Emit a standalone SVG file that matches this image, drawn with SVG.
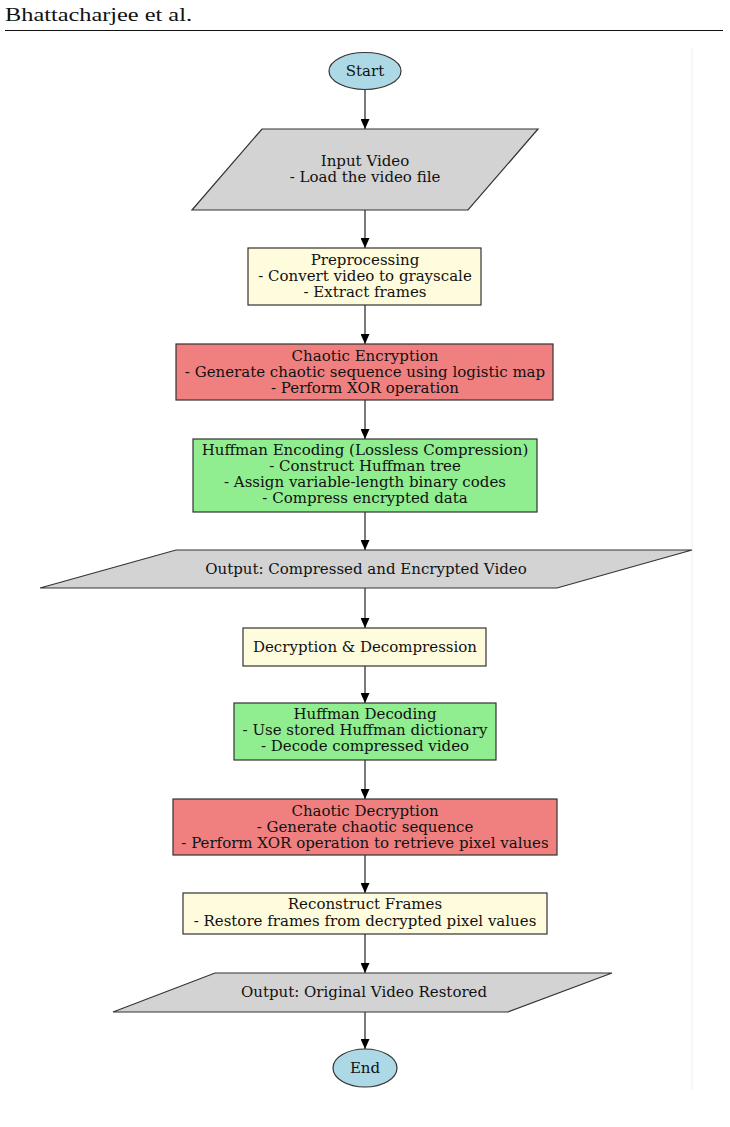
<svg xmlns="http://www.w3.org/2000/svg" width="730" height="1127" viewBox="0 0 730 1127">
<style>
  .t{font-family:"DejaVu Serif","Liberation Serif",serif;font-size:15px;fill:#111;text-anchor:middle}
  .h{font-family:"Liberation Serif","Times New Roman",serif;font-size:19px;fill:#111}
  .n{stroke:#333;stroke-width:1.2}
  .blue{fill:#ADD8E6}.gray{fill:#D3D3D3}.yel{fill:#FFFBDD}.red{fill:#F08080}.grn{fill:#90EE90}
  .c{stroke:#222;stroke-width:1.2;fill:none;marker-end:url(#ah)}
</style>
<defs>
  <marker id="ah" markerUnits="userSpaceOnUse" markerWidth="10" markerHeight="9" refX="10" refY="4.5" orient="auto">
    <path d="M0,0 L10,4.5 L0,9 z" fill="#000"/>
  </marker>
</defs>
<rect width="730" height="1127" fill="#fff"/>
<g id="header">
  <text class="h" x="5" y="21" textLength="187" lengthAdjust="spacingAndGlyphs">Bhattacharjee et al.</text>
  <line x1="5" y1="30.5" x2="723" y2="30.5" stroke="#111" stroke-width="1.2"/>
</g>
<line x1="692" y1="48" x2="692" y2="1090" stroke="#f0f0f0" stroke-width="1"/>
<g id="connectors">
  <line class="c" x1="365" y1="90" x2="365" y2="129"/>
  <line class="c" x1="365" y1="210" x2="365" y2="248"/>
  <line class="c" x1="365" y1="305" x2="365" y2="344"/>
  <line class="c" x1="365" y1="400" x2="365" y2="439"/>
  <line class="c" x1="365" y1="512" x2="365" y2="550"/>
  <line class="c" x1="365" y1="588" x2="365" y2="628"/>
  <line class="c" x1="365" y1="666" x2="365" y2="703"/>
  <line class="c" x1="365" y1="760" x2="365" y2="799"/>
  <line class="c" x1="365" y1="855" x2="365" y2="893"/>
  <line class="c" x1="365" y1="934" x2="365" y2="973"/>
  <line class="c" x1="365" y1="1012" x2="365" y2="1049"/>
</g>
<g id="start">
  <ellipse class="n blue" cx="365" cy="71" rx="36" ry="18.5"/>
  <text class="t" x="365" y="76">Start</text>
</g>
<g id="input">
  <polygon class="n gray" points="262,129 538,129 468,210 192,210"/>
  <text class="t" x="365" y="166">Input Video</text>
  <text class="t" x="365" y="182">- Load the video file</text>
</g>
<g id="preprocessing">
  <rect class="n yel" x="248" y="248" width="233" height="57"/>
  <text class="t" x="365" y="265">Preprocessing</text>
  <text class="t" x="365" y="281">- Convert video to grayscale</text>
  <text class="t" x="365" y="297">- Extract frames</text>
</g>
<g id="encryption">
  <rect class="n red" x="176" y="344" width="377" height="56"/>
  <text class="t" x="365" y="361">Chaotic Encryption</text>
  <text class="t" x="365" y="377">- Generate chaotic sequence using logistic map</text>
  <text class="t" x="365" y="393">- Perform XOR operation</text>
</g>
<g id="huffman-encoding">
  <rect class="n grn" x="193" y="439" width="344" height="73"/>
  <text class="t" x="365" y="455">Huffman Encoding (Lossless Compression)</text>
  <text class="t" x="365" y="471">- Construct Huffman tree</text>
  <text class="t" x="365" y="487">- Assign variable-length binary codes</text>
  <text class="t" x="365" y="503">- Compress encrypted data</text>
</g>
<g id="output1">
  <polygon class="n gray" points="176,550 692,550 557,588 40,588"/>
  <text class="t" x="366" y="574">Output: Compressed and Encrypted Video</text>
</g>
<g id="decrypt-decompress">
  <rect class="n yel" x="243" y="628" width="243" height="38"/>
  <text class="t" x="365" y="652">Decryption &amp; Decompression</text>
</g>
<g id="huffman-decoding">
  <rect class="n grn" x="234" y="703" width="262" height="57"/>
  <text class="t" x="365" y="719">Huffman Decoding</text>
  <text class="t" x="365" y="735">- Use stored Huffman dictionary</text>
  <text class="t" x="365" y="751">- Decode compressed video</text>
</g>
<g id="decryption">
  <rect class="n red" x="173" y="799" width="384" height="56"/>
  <text class="t" x="365" y="816">Chaotic Decryption</text>
  <text class="t" x="365" y="832">- Generate chaotic sequence</text>
  <text class="t" x="365" y="848">- Perform XOR operation to retrieve pixel values</text>
</g>
<g id="reconstruct">
  <rect class="n yel" x="183" y="893" width="364" height="41"/>
  <text class="t" x="365" y="909">Reconstruct Frames</text>
  <text class="t" x="365" y="926">- Restore frames from decrypted pixel values</text>
</g>
<g id="output2">
  <polygon class="n gray" points="215,973 612,973 508,1012 113,1012"/>
  <text class="t" x="364" y="997">Output: Original Video Restored</text>
</g>
<g id="end">
  <ellipse class="n blue" cx="365" cy="1068" rx="32" ry="19"/>
  <text class="t" x="365" y="1073">End</text>
</g>
</svg>
